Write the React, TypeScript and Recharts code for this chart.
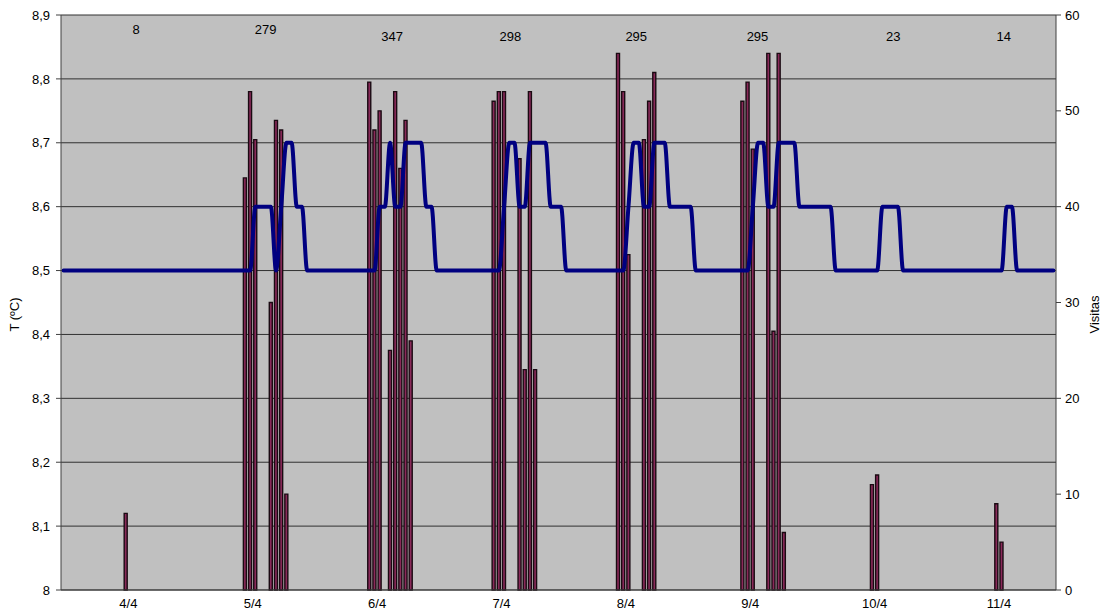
import React from 'react';
import { ComposedChart, Bar, Line, ReferenceDot, XAxis, YAxis, CartesianGrid, Label } from 'recharts';

const FONT = '"Liberation Sans", Arial, sans-serif';

// one entry per day, hourly readings
const dayLabels = ['4/4', '5/4', '6/4', '7/4', '8/4', '9/4', '10/4', '11/4'];

const temp44 = [8.5, 8.5, 8.5, 8.5, 8.5, 8.5, 8.5, 8.5, 8.5, 8.5, 8.5, 8.5, 8.5, 8.5, 8.5, 8.5, 8.5, 8.5, 8.5, 8.5, 8.5, 8.5, 8.5, 8.5];
const temp54 = [8.5, 8.5, 8.5, 8.5, 8.5, 8.5, 8.5, 8.5, 8.5, 8.5, 8.5, 8.5, 8.5, 8.6, 8.6, 8.6, 8.6, 8.5, 8.6, 8.7, 8.7, 8.6, 8.6, 8.5];
const temp64 = [8.5, 8.5, 8.5, 8.5, 8.5, 8.5, 8.5, 8.5, 8.5, 8.5, 8.5, 8.5, 8.5, 8.6, 8.6, 8.7, 8.6, 8.6, 8.7, 8.7, 8.7, 8.7, 8.6, 8.6];
const temp74 = [8.5, 8.5, 8.5, 8.5, 8.5, 8.5, 8.5, 8.5, 8.5, 8.5, 8.5, 8.5, 8.5, 8.6, 8.7, 8.7, 8.6, 8.6, 8.7, 8.7, 8.7, 8.7, 8.6, 8.6];
const temp84 = [8.6, 8.5, 8.5, 8.5, 8.5, 8.5, 8.5, 8.5, 8.5, 8.5, 8.5, 8.5, 8.5, 8.6, 8.7, 8.7, 8.6, 8.6, 8.7, 8.7, 8.7, 8.6, 8.6, 8.6];
const temp94 = [8.6, 8.6, 8.5, 8.5, 8.5, 8.5, 8.5, 8.5, 8.5, 8.5, 8.5, 8.5, 8.5, 8.6, 8.7, 8.7, 8.6, 8.6, 8.7, 8.7, 8.7, 8.7, 8.6, 8.6];
const temp104 = [8.6, 8.6, 8.6, 8.6, 8.6, 8.5, 8.5, 8.5, 8.5, 8.5, 8.5, 8.5, 8.5, 8.5, 8.6, 8.6, 8.6, 8.6, 8.5, 8.5, 8.5, 8.5, 8.5, 8.5];
const temp114 = [8.5, 8.5, 8.5, 8.5, 8.5, 8.5, 8.5, 8.5, 8.5, 8.5, 8.5, 8.5, 8.5, 8.5, 8.6, 8.6, 8.5, 8.5, 8.5, 8.5, 8.5, 8.5, 8.5, 8.5];

const visits44 = [0, 0, 0, 0, 0, 0, 0, 0, 0, 0, 0, 0, 8, 0, 0, 0, 0, 0, 0, 0, 0, 0, 0, 0];
const visits54 = [0, 0, 0, 0, 0, 0, 0, 0, 0, 0, 0, 43, 52, 47, 0, 0, 30, 49, 48, 10, 0, 0, 0, 0];
const visits64 = [0, 0, 0, 0, 0, 0, 0, 0, 0, 0, 0, 53, 48, 50, 0, 25, 52, 44, 49, 26, 0, 0, 0, 0];
const visits74 = [0, 0, 0, 0, 0, 0, 0, 0, 0, 0, 0, 51, 52, 52, 0, 0, 45, 23, 52, 23, 0, 0, 0, 0];
const visits84 = [0, 0, 0, 0, 0, 0, 0, 0, 0, 0, 0, 56, 52, 35, 0, 0, 47, 51, 54, 0, 0, 0, 0, 0];
const visits94 = [0, 0, 0, 0, 0, 0, 0, 0, 0, 0, 0, 51, 53, 46, 0, 0, 56, 27, 56, 6, 0, 0, 0, 0];
const visits104 = [0, 0, 0, 0, 0, 0, 0, 0, 0, 0, 0, 0, 11, 12, 0, 0, 0, 0, 0, 0, 0, 0, 0, 0];
const visits114 = [0, 0, 0, 0, 0, 0, 0, 0, 0, 0, 0, 0, 9, 5, 0, 0, 0, 0, 0, 0, 0, 0, 0, 0];

// daily totals written above the plot (x in hours, y in ºC)
const dayTotals = [8, 279, 347, 298, 295, 295, 23, 14];
const totalAtHour = [14.5, 39.5, 63.9, 86.7, 111, 134.4, 160.6, 181.9];
const totalAtTemp = [8.877, 8.877, 8.866, 8.866, 8.866, 8.866, 8.866, 8.866];

const tempTicks = [8, 8.1, 8.2, 8.3, 8.4, 8.5, 8.6, 8.7, 8.8, 8.9];
const visitTicks = [0, 10, 20, 30, 40, 50, 60];

const tempByDay = [temp44, temp54, temp64, temp74, temp84, temp94, temp104, temp114];
const visitsByDay = [visits44, visits54, visits64, visits74, visits84, visits94, visits104, visits114];

const rows = dayLabels.flatMap((_, d) =>
  tempByDay[d].map((t, hr) => ({ x: d * 24 + hr + 0.5, temp: t, visits: visitsByDay[d][hr] }))
);
const dayTicks = dayLabels.map((_, d) => d * 24 + 13);

const fmtTemp = (v: number) => (Number.isInteger(v) ? String(v) : v.toFixed(1).replace('.', ','));

const tickStyle = { fontSize: 13, fill: '#000', fontFamily: FONT };

const totalText = (total: number) => (props: any) => (
  <text x={props.cx} y={props.cy} textAnchor="middle" dominantBaseline="central" fontSize={13} fontFamily={FONT} fill="#000">
    {total}
  </text>
);

const sideTitle = (text: string, side: 'left' | 'right') => (props: any) => {
  const vb = props.viewBox;
  const x = side === 'left' ? vb.x + 6 : vb.x + vb.width - 2;
  const y = vb.y + vb.height / 2 + 12;
  return (
    <text x={x} y={y} transform={`rotate(-90 ${x} ${y})`} textAnchor="middle" dominantBaseline="central" fontSize={13} fontFamily={FONT} fill="#000">
      {text}
    </text>
  );
};

export default function App() {
  return (
    <div style={{ position: 'absolute', left: 0, top: 0, width: 1104, height: 612, background: '#fff' }}>
      <ComposedChart width={1104} height={612} data={rows} margin={{ top: 15, right: 8, bottom: 0, left: 8 }}>
        <CartesianGrid yAxisId="left" vertical={false} fill="#c0c0c0" stroke="#303030" strokeOpacity={1} ticks={tempTicks} />
        <XAxis
          dataKey="x"
          type="number"
          domain={[0, 192]}
          allowDataOverflow
          ticks={dayTicks}
          interval={0}
          tickFormatter={(v: number) => dayLabels[Math.floor(v / 24)]}
          tickLine={false}
          tickSize={0}
          tickMargin={9}
          height={22}
          stroke="#404040"
          tick={tickStyle}
        />
        <YAxis
          yAxisId="left"
          domain={[8, 8.9]}
          allowDataOverflow
          ticks={tempTicks}
          interval={0}
          tickFormatter={fmtTemp}
          width={53}
          tickSize={5}
          tickMargin={6}
          stroke="#404040"
          tick={tickStyle}
        >
          <Label content={sideTitle('T (ºC)', 'left')} />
        </YAxis>
        <YAxis
          yAxisId="right"
          orientation="right"
          domain={[0, 60]}
          ticks={visitTicks}
          interval={0}
          width={40}
          tickSize={5}
          tickMargin={4}
          stroke="#404040"
          tick={tickStyle}
        >
          <Label content={sideTitle('Visitas', 'right')} />
        </YAxis>
        <Bar yAxisId="right" dataKey="visits" barSize={3} fill="#8a2a5a" stroke="#1a0a12" strokeWidth={1.4} isAnimationActive={false} />
        <Line
          yAxisId="left"
          dataKey="temp"
          type="monotone"
          stroke="#000080"
          strokeWidth={4}
          dot={false}
          strokeLinejoin="round"
          strokeLinecap="round"
          isAnimationActive={false}
        />
        {dayTotals.map((total, i) => (
          <ReferenceDot
            key={i}
            yAxisId="left"
            x={totalAtHour[i]}
            y={totalAtTemp[i]}
            r={0}
            shape={totalText(total)}
          />
        ))}
      </ComposedChart>
    </div>
  );
}
